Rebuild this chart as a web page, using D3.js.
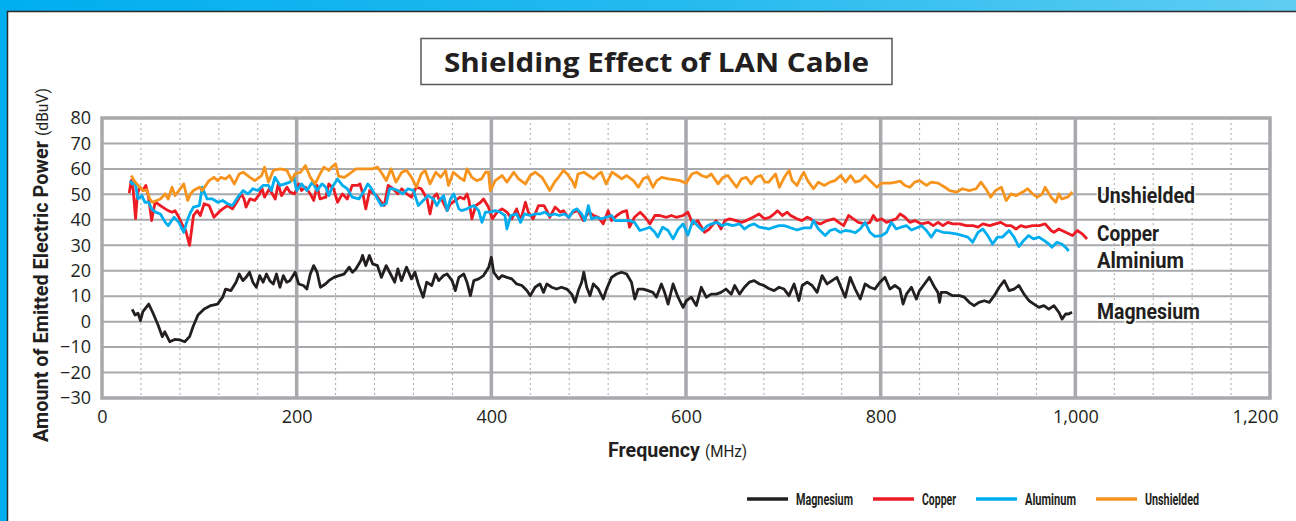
<!DOCTYPE html>
<html>
<head>
<meta charset="utf-8">
<script src="https://cdn.jsdelivr.net/npm/d3@7"></script>
<style>
  body { margin: 0; background: #fff; overflow: hidden; }
  .cond { font-family: "Liberation Sans Narrow", "Roboto", sans-serif; }
</style>
</head>
<body>
<script>
const magnesiumFreq = [31,34,37,39.5,42,48,52.5,57.6,62,64.5,69.6,74.7,80,85,90,93.5,98.6,105,111.7,118.7,124,127,132.5,137.7,141,144.7,148,151.6,155,158.5,162,165.5,169,172.4,176,179.3,182.8,186.3,189.7,193,198.4,202,207,210.5,214,217.5,221,224.4,229.6,233,238.3,243.5,248.7,254,257.3,260.8,266,267.7,271,274.7,278,283,287,292,295.5,300.7,304,307.6,312.8,318,321.5,325,330,333.6,338.8,342.7,346,351,354.6,359.7,363,366.6,371.7,375,378.5,382,387,392,397.3,400,402.4,407.5,411,416,421,426,431.4,436.5,440,445,450,453.6,457,462,467,472,477.5,482.6,486,489.4,492.8,495,498,501.4,504.8,510,515,518.4,523.5,528.7,533.8,539,544,547.4,550.8,556,561,566,569.6,574.7,578,581.6,586.7,591.8,597,600.3,605.5,610.6,615.7,620.8,626,631,636,641,646.5,650,655,660,665,670,675.4,680,685,690.5,695.6,700.7,705.8,711,716,719.4,724.5,729.6,734.7,739.8,745,750,755,760,763.6,768.7,773.8,779,784,789,794,799.3,804.4,809.5,814.6,819.7,823,826.5,831.6,836.7,840,845,850,855.4,858.8,860.5,862.2,867.3,874,881,886,891,896,901,906.5,911.6,916.7,921.8,927,932,937,942,947.3,952.4,957.5,962.6,967.7,972.8,978,983,986.4,990,993,996.6];
const magnesiumLevel = [4.8,2.6,3.3,0.4,3.9,6.9,3.3,-1.3,-5.9,-4,-7.9,-7,-7.2,-7.9,-5.9,-2,2.6,5,6.3,6.9,9.6,12.8,12.2,15.5,18.7,16.1,17.4,19.4,15.5,13.5,18.1,15.5,18.7,16.1,14.8,18.7,13.5,18.1,15.5,16.1,19.4,14.8,14.2,12.8,18.7,22,19.4,13.5,14.8,16.1,17.4,18.1,18.7,21.4,19.4,20.7,24,26,22,26,22.7,22,17.4,22,19.4,15.5,20.7,16.1,21.4,16.8,19.4,14.8,9.6,15.5,14.2,18.7,16.1,18.1,18.7,16.1,12.2,17.4,18.7,15.5,10.2,16.1,16.8,18.1,21.4,25.3,19.4,16.8,18.1,17.4,16.8,14.8,14.2,12.2,10.2,13.5,14.8,11.5,14.8,13.5,12.8,13.5,12.8,10.8,7.6,12.2,15.5,19.4,13.5,10.2,14.8,12.8,8.9,12.8,17.4,18.7,19.4,18.7,15.5,8.9,12.8,12.8,12.2,11.5,9.6,14.8,11.5,6.9,14.8,9.6,5.6,8.2,9.6,6.3,13.5,9.6,10.8,10.8,11.5,12.8,10.8,14.2,10.8,13.5,15.5,16.1,14.8,14.2,13,12.2,13.5,12.8,10.2,14.8,8.3,14.2,15.5,14.2,11.5,18.1,14.8,16.1,17.4,12.8,9.6,17.4,12.8,8.9,14.8,13.5,12.8,15.5,17.4,12.8,14.2,12.8,6.9,10.8,13.5,8.9,12.2,14.8,17.4,13.5,11.5,7.6,11.5,11.5,10.2,10.2,9.6,7.6,6.3,7.6,8.2,7.6,10.2,13.5,16.1,12.2,12.8,14.2,10.8,8.2,6.9,5.6,6.3,4.9,6.3,3.7,1,3,3,3.7];

const copperFreq = [28,30,32,34.5,36.5,39,42,45,47.6,51,54.6,60,65,68,72,75,79,82,86,90,94,98,101,105,110,115,120,124,129,134,139.5,143,146,148,152,157,162,164,167,172,178,181,184.5,190,193,198,202,205,209,214,217.5,221,224,230,233,238,242,247,252,257,262.5,265,268,271,275,282,287,290,294,299,304,308,313,318,323,328,334,337,340.5,344,346,349.5,354.6,358,363,368,372,375,377,380,384,389,392,397,401,406,411,416,421,426,430,435,438,443,448.5,454,457,460,465.5,471,474,479,484,489,494.5,500,505,510,515,520,523.5,529,534,539,542,547,553,558,563,568,573,580,585,590,597,602,607,612,619,624,631,636,640,645,651.5,657,662,669,675,680.5,686,690.5,694,699,704,707.5,714,719,724.5,728,733,738,745,752,757,762,767,772,777,784,789,792.5,796,801,806,811,816,820,825,830,835,842,849,854,859,864,869,874,881,888,895,900,905,912,918,923.5,929,934,939,944,949,956,963,969,975,978,983,990,997,1002,1007,1012];
const copperLevel = [50.5,55.5,52,40.5,50.5,52.8,51.5,53.5,49.5,39.7,47,45.6,44.3,43.6,43,43.6,41,38.4,35.8,30,41.7,43.6,41.7,46.3,45.6,41,43,44.3,45.6,44.3,47.6,50.2,48.2,45,48.2,47.6,50.2,52.8,48.9,52.2,48.2,54.1,49.5,52.8,50.9,50.2,54.1,51.5,52.8,50.2,47.6,53.5,48.2,48.9,54.1,52.2,46.9,50.2,48.2,53.5,53.5,54.1,50.2,44.3,51.5,49.5,46.9,45.6,53.5,52.2,50.2,52.2,50.2,48.9,52.8,52.2,48.2,42.3,48.9,50.2,48.2,47.6,43.6,46.3,47.6,48.9,48.2,50.2,47.6,40.4,45.6,46.9,48.2,45,40.4,43,44.3,43,40.4,44.3,39.7,46.9,43,40.4,45.6,45.6,43.6,41,45,43,43.6,41,43,43.6,39.7,43,41.7,41,38.4,43.6,39.7,41.7,43,43.6,37.1,41,43,41,38.4,41.7,41.7,41,41.7,41,41.7,43,38.4,39.7,35.1,36.4,39.7,36.4,39.7,40.4,39.7,39,39.7,41,42.3,40.4,41,42.3,43.6,41.7,43,41.7,40.4,39.7,41,40.4,39,38.4,39.7,40.4,39,37.7,41.7,40.4,39,38.4,39,41.7,39.7,40.4,39,39.7,40.4,42.3,41,39,39.7,38.4,39,37.7,39,37.7,39,38.4,38.4,37.7,37.7,37.1,38.4,37.7,38.4,39,37.7,37.7,36.4,37.7,37.1,37.7,37.7,38.4,35.8,35.1,36.4,35.1,33.8,35.8,34.5,32.5];

const aluminumFreq = [29,31,34,37,41,44,48,51,55,60,65,68,74,79,84,87.5,91,94,100,103,108,113.5,119,124,129,134,139.5,145,150,155,160,165.5,171,174,177.6,183,188,193,197,200,205,210.5,216,221,226,230,233,236.5,242,247,252,257,264,269.5,273,276,282,287,292,295.5,299,304,309,314.5,320,325,330,335,340.5,344,347.8,351,354.6,358,361.4,366.6,369.6,375,378.5,382,387,390.4,393.9,399,404,409,414,416,420,426,430,434,440,445,450,455,460,465,470,475,480,484,488,492.8,496,499.7,503,508,513,518,523.5,527,532,537,542,547,552.6,557.7,562.8,568,571,576,581.6,586.7,592,597,602,607,612,617,622,626.5,632,637,642,648,655,660,665,670,675.4,680,685,690.5,695.6,700.7,705.8,711,714,721,728,731,736,743,748,753,758.5,763.6,768.7,773.8,779,784,789,794,801,806,811,816,821,826.5,831.6,836.7,842,847,852,857,864,870.7,877.6,884.4,889.5,894.6,900,905,910,915,920,925,932,937,942,947,952,957,962.6,967.7,972.8,976,981,986,991.5,993];
const aluminumLevel = [55.4,54.1,54.8,48.2,49.5,46.9,46.9,44.3,43,42.3,39,37.7,41,39,35.1,39.7,43,45,45.6,52.8,48.2,48.2,46.9,47.6,46.3,45.6,48.9,51.5,50.2,52.2,51.5,53.5,53.5,51.5,56.7,53.5,54.1,54.8,56.7,51.5,54.1,51.5,54.8,51.5,54.1,52.8,49.5,52.8,56,53.5,52.2,48.9,48.2,51.5,54.1,52.8,48.9,45.6,46.3,52.2,52.2,51.5,50.2,52.2,51.5,45.6,47.6,49.5,48.2,45.6,48.2,49.5,43.6,48.2,50.2,44.3,43.6,44.3,45,45.6,43.6,39,43,43,43.6,43,41.7,36.4,41.7,42.3,39,42.3,41.7,42.3,42.3,43,41.7,42.3,41.7,42.3,41,43.6,44.3,42.3,39.7,45.6,40.4,41,40.4,41,41.7,39.7,39.7,39.7,39.7,39,35.8,36.4,37.1,35.1,33.2,37.1,35.8,32.5,36.4,38.4,34,39.7,37.7,35.8,37.7,38.4,39,37.7,38.4,37.7,38.4,36.4,37.7,38.4,37.1,36.8,36.4,37.1,37.7,37.7,37.1,36.4,36,36.8,36.8,39.7,36.4,33.8,35.8,36.4,35.1,35.8,35.6,34.9,36.4,39,35.1,33.5,33.8,35.1,39,36.4,37.1,37.7,36,36.8,37.7,35.8,33.2,36,35.1,34.9,34.5,33.8,33.2,31.2,35.1,36.4,33.8,30.5,33.2,33.2,35.8,33.2,29.5,31.9,33.8,32.5,33.2,31.9,30.5,29.2,31.2,30.5,28.6,27.7];

const unshieldedFreq = [30,34,39,42,46,49,52,60,65,68,72,75,79,84,88,91,94,100,103,110,115,119,122,127,131,136,141,145,152,157,164,167,171,176,183,190,195,198,204,209,214,219,224,228,233,236,240,243,249,254,261,268,278,283,288,292,297,302,308,313,318,323,328,332,337,343,348,353,356,361,367,372,375,380,385,390,394,397,399,404,411,416,423,428,435,440,445,452,455,460,465,469,474,478,483,486,489,495,500,505,510,513,518,524,527,534,539,546,551,556,561,566,570,575,582,588,594,600,606,611,616,621,626,633,638,643,648,652,657,662,667,672,677,681,685,689,692,696,701,706,709,714,718,721,725,731,736,742,748,753,759,764,769,774,779,784,789,796,801,810,816,820,825,830,835,840,847,852,859,866,871,878,884,891,898,903,908,913,918,924,929,934,939,946,951,956,961,966,969,975,980,983,986,992,997];
const unshieldedLevel = [57.4,54.8,52.8,51.5,51.8,48.2,46.9,48.2,50.2,48.2,52.8,49.5,51.5,54.1,47.6,50.2,51.5,52.8,51.5,55.4,56.7,55.4,56.7,56.1,57.4,54.1,58,58.7,56.7,55.4,57.4,60.7,54.8,59.4,60,59.4,55.4,58,58.7,61.3,56.7,54.1,58,60.7,59.4,60.7,62,57.2,56.7,58,60,60,60,60.7,58,55.4,60,54.8,58.7,59.4,56.7,52.8,58,59.4,54.1,58.7,56.7,59.4,53.5,58.7,56.7,55.4,60,56.7,55.4,56.1,58.7,58.7,51.5,55.4,57.4,54.8,58.7,56.1,54.1,57.4,58.7,56.7,54.8,51.5,54.8,56.7,59.4,58,55.4,52.8,58,58.7,57.4,56.1,58,58.7,54.1,58.7,58,56.1,57.4,55.4,52.8,56.1,57,52.8,55.4,56.7,56.1,55.8,55.4,54.4,58,58.7,57.4,56.7,58,54.1,56.7,57.4,54.8,52.8,56.1,56.7,54.1,56.7,57.4,54.8,54.8,56.7,58,52.8,56.7,59.4,55.4,53.5,56.7,58.7,55.4,52.2,54.8,53.5,54.8,55.4,57.4,54.8,57.4,54.8,55.4,57.4,55.4,52.8,54.4,54.4,54.8,55.2,53.5,52.8,54.8,55.4,53.5,54.8,54.4,52.8,51.5,50.9,52.2,51.5,52.2,54.8,52.2,48.9,51.5,52.8,47.6,50.2,49.5,50.9,52.2,50.2,48.9,50.2,52.8,48.9,46.9,50.2,48.2,48.9,50.9];

const seriesNames = ["Magnesium", "Copper", "Aluminum", "Unshielded"];
const seriesColors = ["#231f20", "#ed1c24", "#00aeef", "#f7941d"];
const endLabels = ["Unshielded", "Copper", "Alminium", "Magnesium"];
const xTicks = [0, 200, 400, 600, 800, 1000, 1200];
const yTicks = [-30, -20, -10, 0, 10, 20, 30, 40, 50, 60, 70, 80];

const W = 1296, H = 521;
const svg = d3.select("body").append("svg").attr("width", W).attr("height", H);

// blue frame of the page
const grad = svg.append("defs").append("linearGradient").attr("id", "band");
grad.append("stop").attr("offset", "0%").attr("stop-color", "#00aeef");
grad.append("stop").attr("offset", "55%").attr("stop-color", "#27bbef");
grad.append("stop").attr("offset", "100%").attr("stop-color", "#5fcdf3");
svg.append("rect").attr("width", W).attr("height", 11).attr("fill", "url(#band)");
svg.append("rect").attr("width", 7).attr("height", H).attr("fill", "#00aeef");
svg.append("path").attr("d", `M7.5,${H}V11.5H${W}`).attr("fill", "none")
  .attr("stroke", "#2b2b2b").attr("stroke-width", 1.5);

const x = d3.scaleLinear().domain([0, 1200]).range([102, 1270]);
const y = d3.scaleLinear().domain([-30, 80]).range([398, 118]);
const gridCol = "#a7a9ac";

// grid
const minor = d3.range(40, 1200, 40).filter(d => d % 200 !== 0);
svg.append("g").selectAll("line").data(minor).join("line")
  .attr("x1", d => x(d)).attr("x2", d => x(d)).attr("y1", y(80)).attr("y2", y(-30))
  .attr("stroke", "#a8a8a8").attr("stroke-width", 1).attr("stroke-dasharray", "2,3");
svg.append("g").selectAll("line").data(yTicks).join("line")
  .attr("x1", x(0)).attr("x2", x(1200)).attr("y1", d => y(d)).attr("y2", d => y(d))
  .attr("stroke", gridCol).attr("stroke-width", 2);
svg.append("g").selectAll("line").data(xTicks.slice(1, -1)).join("line")
  .attr("x1", d => x(d)).attr("x2", d => x(d)).attr("y1", y(80)).attr("y2", y(-30))
  .attr("stroke", gridCol).attr("stroke-width", 3.5);
svg.append("rect").attr("x", x(0)).attr("y", y(80))
  .attr("width", x(1200) - x(0)).attr("height", y(-30) - y(80))
  .attr("fill", "none").attr("stroke", gridCol).attr("stroke-width", 3.5);

// axes
const yAxis = svg.append("g").attr("transform", `translate(${x(0)},0)`)
  .call(d3.axisLeft(y).tickValues(yTicks).tickSize(0).tickPadding(11));
const xAxis = svg.append("g").attr("transform", `translate(0,${y(-30)})`)
  .call(d3.axisBottom(x).tickValues(xTicks).tickFormat(d3.format(",")).tickSize(0).tickPadding(12));
[yAxis, xAxis].forEach(a => {
  a.select(".domain").remove();
  a.selectAll("text").attr("font-family", "'Open Sans', sans-serif")
    .attr("font-size", 18).attr("fill", "#231f20");
});
// last label sits a little inside the frame, as in the original
xAxis.selectAll(".tick text").filter(d => d === 1200).attr("dx", -15);

// series
const series = [
  { f: magnesiumFreq, v: magnesiumLevel },
  { f: copperFreq, v: copperLevel },
  { f: aluminumFreq, v: aluminumLevel },
  { f: unshieldedFreq, v: unshieldedLevel }
];
const line = d3.line().x(d => x(d[0])).y(d => y(d[1]));
svg.append("g").selectAll("path").data(series).join("path")
  .attr("d", s => line(d3.zip(s.f, s.v)))
  .attr("fill", "none")
  .attr("stroke", (s, i) => seriesColors[i])
  .attr("stroke-width", 2.8)
  .attr("stroke-linejoin", "round");

// labels at the end of the lines
const labelLevel = [46.5, 31.6, 21.0, 1.0];
const labelWidth = [98, 62, 87, 103];
svg.append("g").selectAll("text").data(endLabels).join("text")
  .attr("class", "cond")
  .attr("x", 1097).attr("y", (d, i) => y(labelLevel[i]))
  .attr("font-size", 22).attr("font-weight", "bold").attr("fill", "#231f20")
  .attr("stroke", "#fff").attr("stroke-width", 3).attr("paint-order", "stroke")
  .attr("textLength", (d, i) => labelWidth[i]).attr("lengthAdjust", "spacingAndGlyphs")
  .text(d => d);

// title
svg.append("rect").attr("x", 421).attr("y", 38.5).attr("width", 471).attr("height", 46)
  .attr("fill", "#fff").attr("stroke", "#58595b").attr("stroke-width", 1.5);
svg.append("text").attr("x", 656.5).attr("y", 72).attr("text-anchor", "middle")
  .attr("font-family", "'Open Sans', sans-serif").attr("font-weight", "bold")
  .attr("font-size", 27).attr("fill", "#231f20")
  .attr("textLength", 425).attr("lengthAdjust", "spacingAndGlyphs")
  .text("Shielding Effect of LAN Cable");

// axis titles (bold part and unit as separate texts)
const titleText = (tx, ty, rot, str, size, bold, len) =>
  svg.append("text").attr("class", "cond")
    .attr("transform", `translate(${tx},${ty}) rotate(${rot})`)
    .attr("fill", "#231f20").attr("font-size", size).attr("font-weight", bold ? "bold" : "normal")
    .attr("textLength", len).attr("lengthAdjust", "spacingAndGlyphs")
    .text(str);
titleText(48, 442, -90, "Amount of Emitted Electric Power", 21, true, 301);
titleText(48, 136, -90, "(dBuV)", 17, false, 48);
titleText(608, 457, 0, "Frequency", 21, true, 92);
titleText(705, 457, 0, "(MHz)", 17, false, 42);

// legend
const legendWidth = [57, 34, 51, 54];
const legend = svg.append("g").attr("transform", "translate(747,499)");
let lx = 0;
seriesNames.forEach((name, i) => {
  legend.append("line").attr("x1", lx).attr("x2", lx + 41)
    .attr("stroke", seriesColors[i]).attr("stroke-width", 3.5);
  legend.append("text").attr("class", "cond")
    .attr("x", lx + 49).attr("y", 6).attr("font-size", 16).attr("font-weight", "bold")
    .attr("fill", "#231f20")
    .attr("textLength", legendWidth[i]).attr("lengthAdjust", "spacingAndGlyphs")
    .text(name);
  lx += 49 + legendWidth[i] + 20;
});
</script>
</body>
</html>
